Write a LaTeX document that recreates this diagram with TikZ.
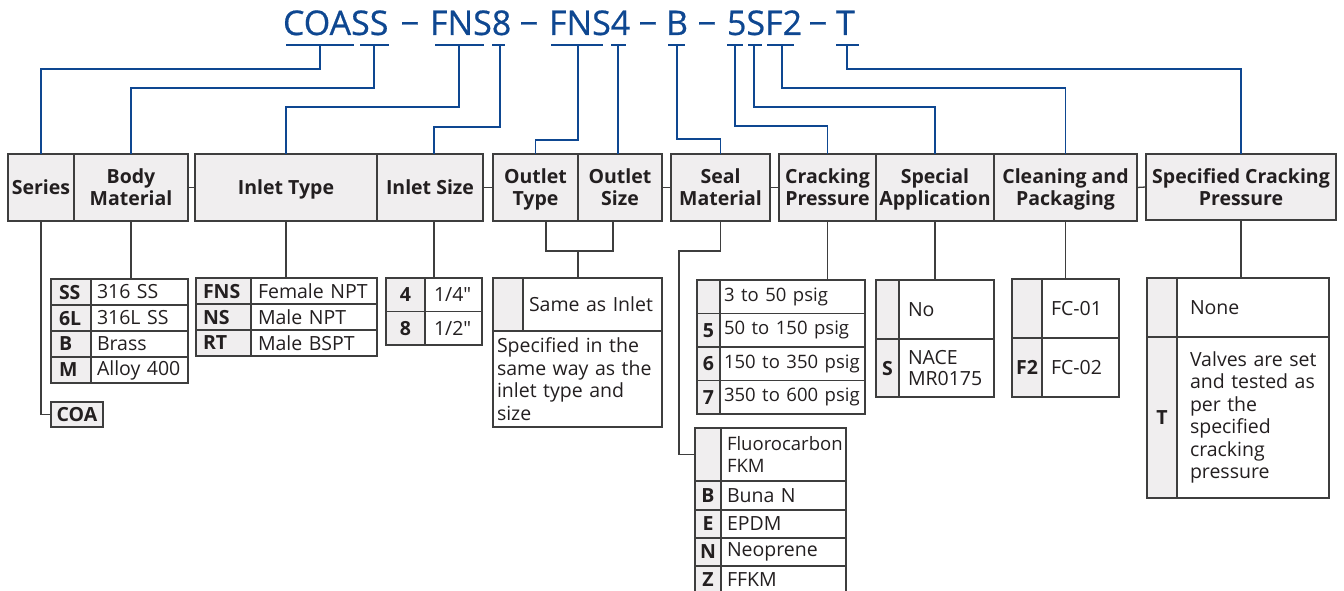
\documentclass[tikz,border=0pt]{standalone}
\usepackage{fontspec}
\setmainfont{Open Sans}[Ligatures=TeXOff]
\newfontfamily\codefont{Open Sans}[FakeBold=0.6]
\usetikzlibrary{calc}
\definecolor{codeblue}{RGB}{14,71,145}
\definecolor{cellgray}{RGB}{240,238,239}
\definecolor{linegray}{RGB}{62,62,62}
\definecolor{txt}{RGB}{35,31,32}
\newcommand\trow[8]{%
  \node[kcell, kalign, minimum width=#4pt, minimum height=#6pt] (#1k) at (#2,#3) {#7};
  \pgfmathsetmacro\tw{#5-2*\vpad}%
  \node[vcell, minimum height=#6pt, inner xsep=\vpad pt, text width=\tw pt] (#1v) at (#1k.north east) {#8};
}
\begin{document}
\begin{tikzpicture}[x=1pt,y=-1pt,
  base/.style={draw=linegray, line width=1.3pt, inner sep=0pt, outer sep=0pt, anchor=north west, text=txt},
  hcell/.style={base, fill=cellgray, align=center, text depth=0pt, font=\bfseries\fontsize{19.5}{22}\selectfont},
  kcell/.style={base, fill=cellgray, text depth=0pt, font=\bfseries\fontsize{19.5}{22.5}\selectfont},
  kalign/.style={},
  vcell/.style={base, fill=white, align=left, font=\fontsize{19.5}{22.5}\selectfont},
  code/.style={text=codeblue, font=\codefont\fontsize{34}{36}\selectfont, inner sep=0pt, outer sep=0pt, anchor=base west},
  dsh/.style={text=codeblue, font=\codefont\fontsize{33}{36}\selectfont, inner sep=0pt, anchor=base},
  cbar/.style={draw=codeblue, line width=2.2pt},
  clink/.style={draw=codeblue, line width=1.8pt},
  glink/.style={draw=linegray, line width=1.3pt}]
\useasboundingbox[fill=white] (0,0) rectangle (1344,591);

% ---------- ordering code ----------
\node[code] (cCOASS) at (283,35) {COASS};
\node[dsh] (d1) at (410,35) {−};
\node[code] (cFNS8) at (430,35) {FNS8};
\node[dsh] (d2) at (529,35) {−};
\node[code] (cFNS4) at (549,35) {FNS4};
\node[dsh] (d3) at (648,35) {−};
\node[code] (cB) at (666,35) {B};
\node[dsh] (d4) at (707,35) {−};
\node[code] (c5SF2) at (727,35) {5SF2};
\node[dsh] (d5) at (818,35) {−};
\node[code] (cT) at (836,35) {T};

% underline bars
\draw[cbar] (286,45) -- (354,45);
\draw[cbar] (360,45) -- (389,45);
\draw[cbar] (435,45) -- (484,45);
\draw[cbar] (492,45) -- (505,45);
\draw[cbar] (551,45) -- (603,45);
\draw[cbar] (611,45) -- (626,45);
\draw[cbar] (668,45) -- (685,45);
\draw[cbar] (727,45) -- (743,45);
\draw[cbar] (748,45) -- (762,45);
\draw[cbar] (767,45) -- (794,45);
\draw[cbar] (836,45) -- (859,45);
\coordinate (tCOA) at (320,45);
\coordinate (tSS) at (374,45);
\coordinate (tFNS) at (459,45);
\coordinate (t8) at (500,45);
\coordinate (tFNSo) at (578,45);
\coordinate (t4) at (618,45);
\coordinate (tB) at (677,45);
\coordinate (t5) at (735,45);
\coordinate (tS) at (754,45);
\coordinate (tF2) at (782,45);
\coordinate (tT) at (847,45);

% ---------- header boxes ----------
\node[hcell, minimum width=66pt, minimum height=67pt] (series) at (8,154) {Series};
\node[hcell, minimum width=114pt, minimum height=67pt] (body) at (74,154) {Body\\Material};
\node[hcell, minimum width=182pt, minimum height=67pt] (itype) at (195,154) {Inlet Type};
\node[hcell, minimum width=106pt, minimum height=67pt] (isize) at (377,154) {Inlet Size};
\node[hcell, minimum width=85pt, minimum height=67pt] (otype) at (493,154) {Outlet\\Type};
\node[hcell, minimum width=84pt, minimum height=67pt] (osize) at (578,154) {Outlet\\Size};
\node[hcell, minimum width=99pt, minimum height=67pt] (seal) at (671,154) {Seal\\Material};
\node[hcell, minimum width=97pt, minimum height=67pt] (crack) at (779,154) {Cracking\\Pressure};
\node[hcell, minimum width=118pt, minimum height=67pt] (special) at (876,154) {Special\\Application};
\node[hcell, minimum width=143pt, minimum height=67pt] (clean) at (994,154) {Cleaning and\\Packaging};
\node[hcell, minimum width=190pt, minimum height=66pt] (spec) at (1146,154) {Specified Cracking\\Pressure};

% ---------- option tables ----------
\node[kcell, minimum width=52pt, minimum height=25pt] (coa) at (51,402) {COA};

\def\vpad{6}
\tikzset{kalign/.style={text width=24pt, inner xsep=8pt, align=left}}
\trow{bm1}{51}{279}{40}{97}{26}{SS}{316~SS}
\trow{bm2}{51}{305}{40}{97}{26}{6L}{316L~SS}
\trow{bm3}{51}{331}{40}{97}{26}{B}{Brass}
\trow{bm4}{51}{357}{40}{97}{26}{M}{Alloy~400}

\def\vpad{7}
\tikzset{kalign/.style={text width=41pt, inner xsep=7pt, align=left}}
\trow{it1}{196}{278}{55}{126}{26}{FNS}{Female~NPT}
\trow{it2}{196}{304}{55}{126}{26}{NS}{Male~NPT}
\trow{it3}{196}{330}{55}{126}{26}{RT}{Male~BSPT}

\tikzset{kalign/.style={}}
\def\vpad{9}
\trow{is1}{386}{278}{39}{57}{33.5}{4}{1/4"}
\trow{is2}{386}{311.5}{39}{57}{33.5}{8}{1/2"}

\def\vpad{6}
\trow{ot1}{493}{278}{30}{139}{53}{}{Same~as~Inlet}
\node[vcell, minimum width=169pt, minimum height=96pt, inner xsep=4pt, text width=161pt] (ot2) at (493,331)
  {Specified~in~the\\same~way~as~the\\inlet~type~and\\size};

\def\vpad{4}
\trow{cp1}{697}{280}{23}{145}{33.5}{}{\fontsize{18.5}{22}\selectfont 3~to~50~psig}
\trow{cp2}{697}{313.5}{23}{145}{33.5}{5}{\fontsize{18.5}{22}\selectfont 50~to~150~psig}
\trow{cp3}{697}{347}{23}{145}{33.5}{6}{\fontsize{18.5}{22}\selectfont 150~to~350~psig}
\trow{cp4}{697}{380.5}{23}{145}{33.5}{7}{\fontsize{18.5}{22}\selectfont 350~to~600~psig}

\def\vpad{6}
\trow{sm1}{695}{428}{26}{125}{53}{}{\fontsize{18.5}{21.5}\selectfont Fluorocarbon\\FKM}
\trow{sm2}{695}{481}{26}{125}{29}{B}{Buna~N}
\trow{sm3}{695}{510}{26}{125}{28}{E}{EPDM}
\trow{sm4}{695}{538}{26}{125}{28}{N}{Neoprene}
\trow{sm5}{695}{566}{26}{125}{28}{Z}{FFKM}

\def\vpad{9}
\trow{sa1}{876}{280}{23}{95}{59}{}{No}
\trow{sa2}{876}{339}{23}{95}{58}{S}{NACE\\[-2pt]MR0175}

\trow{cl1}{1012}{279}{30}{77}{59}{}{FC-01}
\trow{cl2}{1012}{338}{30}{77}{59}{F2}{FC-02}

\def\vpad{13}
\trow{sp1}{1147}{278}{30}{152}{59}{}{None}
\trow{sp2}{1147}{337}{30}{152}{161}{T}{Valves~are~set\\and~tested~as\\per~the\\specified\\cracking\\pressure}

% ---------- blue connectors ----------
\draw[clink] (tCOA) -- ++(0,24) -| (series.north);
\draw[clink] (tSS) -- ++(0,43) -| (body.north);
\draw[clink] (tFNS) -- ++(0,62) -| (itype.north);
\draw[clink] (t8) -- ++(0,82) -| ([xshift=4pt]isize.north);
\draw[clink] (tFNSo) -- ++(0,95) -| (otype.north);
\draw[clink] (t4) -- (t4 |- osize.north);
\draw[clink] (tB) -- ++(0,94) -| (seal.north);
\draw[clink] (t5) -- ++(0,81) -| (crack.north);
\draw[clink] (tS) -- ++(0,62) -| (special.north);
\draw[clink] (tF2) -- ++(0,43) -| (clean.north);
\draw[clink] (tT) -- ++(0,24) -| (spec.north);

% ---------- gray connectors ----------
\draw[glink] (body.east) -- (itype.west);
\draw[glink] (isize.east) -- (otype.west);
\draw[glink] (osize.east) -- (seal.west);
\draw[glink] (seal.east) -- (crack.west);
\draw[glink] (clean.east) -- (spec.west);

\draw[glink] (series.south) |- (coa.west);
\draw[glink] (body.south) -- (body.south |- bm1v.north);
\draw[glink] (itype.south) -- (itype.south |- it1v.north);
\draw[glink] ([xshift=4pt]isize.south) -- ([xshift=4pt]isize.south |- is1v.north);
\coordinate (oj) at ($(otype.south east)+(0,30)$);
\draw[glink] ([xshift=10.5pt]otype.south) -- ++(0,30) -| ([xshift=-7pt]osize.south);
\draw[glink] (oj) -- (oj |- ot1v.north);
\draw[glink] (seal.south) -- ++(0,30) -| ($(sm1k.west)+(-16,0)$) -- (sm1k.west);
\draw[glink] (crack.south) -- (crack.south |- cp1v.north);
\draw[glink] (special.south) -- (special.south |- sa1v.north);
\draw[glink] (clean.south) -- (clean.south |- cl1v.north);
\draw[glink] (spec.south) -- (spec.south |- sp1v.north);
\end{tikzpicture}
\end{document}
